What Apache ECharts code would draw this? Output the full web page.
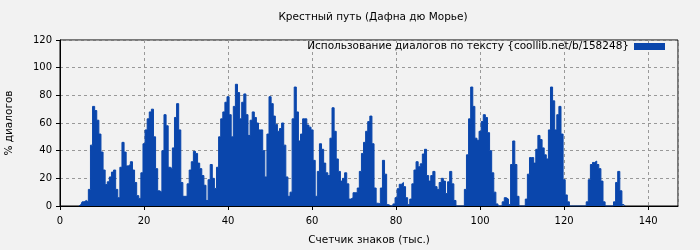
<!DOCTYPE html>
<html>
<head>
<meta charset="utf-8">
<script src="https://cdn.jsdelivr.net/npm/echarts@6/dist/echarts.min.js"></script>
<style>
html,body{margin:0;padding:0;background:#f2f2f2;}
#chart{width:700px;height:250px;}
</style>
</head>
<body>
<div id="chart"></div>
<script>
var chartTitle = 'Крестный путь (Дафна дю Морье)';
var xAxisName = 'Счетчик знаков (тыс.)';
var yAxisName = '% диалогов';
var seriesName = 'Использование диалогов по тексту {coollib.net/b/158248}';
var xTicks = [0, 20, 40, 60, 80, 100, 120, 140];
var yTicks = [0, 20, 40, 60, 80, 100, 120];
var xStart = 4.5;   // thousand characters
var xStep = 0.5;
var dialogPct = [
  0, 1, 3, 4, 3, 12, 44, 72, 69, 62, 52, 39, 26, 15.5, 17.5, 21, 24.5, 26, 12, 6,
  28, 46, 39, 29, 30, 32, 26, 17, 7.5, 5.5, 24, 45, 55, 63, 68, 70, 50, 27, 11, 10,
  40, 66, 58, 28, 27, 42, 64, 74, 55, 17, 7, 7, 16, 26, 32, 39.5, 38, 31, 27, 22,
  15, 4, 19, 30, 20, 12.7, 28, 50, 63, 68, 75, 79, 66, 50, 72, 88, 82, 63, 75, 81,
  66, 51, 62, 68, 64, 60, 55, 55, 40, 21, 52, 79, 74, 65, 59, 54, 56, 60, 44, 21,
  7, 10, 63, 86, 68, 47, 52, 63, 63, 58.5, 57, 55, 33, 7, 25, 45, 41, 31, 24, 22,
  49, 71, 54, 34, 25, 18, 20, 24, 16, 5, 6, 9.6, 9.6, 13, 25, 38, 46, 54, 61, 65,
  45, 13, 2, 1.5, 13, 33, 23, 1, 0, 0, 1.5, 6, 12.5, 15.7, 17, 14, 6, 1, 5, 16,
  26, 32, 28.4, 30.5, 37.6, 41, 22, 18, 22, 25, 14, 12, 17, 20, 18, 9, 17.5, 25, 16, 4,
  0, 0, 0, 0, 12, 37, 63, 86, 72, 49, 47.5, 54, 61, 66, 64, 53, 40, 24, 10, 1.5,
  0, 0, 3, 6, 5, 1, 30, 47, 30, 7, 0, 0, 0, 5, 23, 35, 35, 31, 41, 51,
  48, 42, 37, 34, 55, 86, 76, 55, 66, 72, 52, 19, 8, 3, 0, 0, 0, 0, 0, 0,
  0, 0, 3, 19, 30, 31.5, 32.5, 30, 27, 18, 3, 0, 0, 0, 0, 3, 17, 25, 11, 1, 0
];

var pts = dialogPct.map(function (v, i) { return [xStart + i * xStep, v]; });
var blue = '#0a46ac';

var chart = echarts.init(document.getElementById('chart'), null, {renderer: 'canvas'});
chart.setOption({
  backgroundColor: '#f2f2f2',
  animation: false,
  textStyle: {fontFamily: 'DejaVu Sans'},
  title: {
    text: chartTitle,
    left: 368,
    textAlign: 'center',
    top: 7,
    textStyle: {fontFamily: 'DejaVu Sans', fontSize: 10.5, fontWeight: 'normal', color: '#000'}
  },
  legend: {
    data: [seriesName],
    right: 30,
    top: 36,
    align: 'right',
    icon: 'rect',
    itemWidth: 31,
    itemHeight: 7,
    itemGap: 10,
    textStyle: {fontFamily: 'DejaVu Sans', fontSize: 10.5, color: '#000'}
  },
  grid: {
    left: 60, right: 22, top: 40, bottom: 44,
    outerBoundsMode: 'none',
    containLabel: false,
    show: true, borderColor: '#000', borderWidth: 1, backgroundColor: '#f2f2f2'
  },
  xAxis: {
    type: 'value',
    min: 0, max: 147.1, interval: 20,
    name: xAxisName,
    nameLocation: 'middle',
    nameGap: 29,
    nameTextStyle: {fontFamily: 'DejaVu Sans', fontSize: 10.5, color: '#000'},
    axisLine: {show: true, lineStyle: {color: '#000'}},
    axisTick: {show: true, length: 4, lineStyle: {color: '#000'}},
    axisLabel: {
      fontSize: 10, color: '#000', margin: 10,
      showMaxLabel: false,
      formatter: function (v) { return xTicks.indexOf(v) >= 0 ? String(v) : ''; }
    },
    splitLine: {show: true, lineStyle: {color: '#999', type: [3, 3], width: 1}}
  },
  yAxis: {
    type: 'value',
    min: 0, max: 120, interval: 20,
    name: yAxisName,
    nameLocation: 'middle',
    nameGap: 45,
    nameTextStyle: {fontFamily: 'DejaVu Sans', fontSize: 10.5, color: '#000'},
    axisLine: {show: true, lineStyle: {color: '#000'}},
    axisTick: {show: true, length: 4, lineStyle: {color: '#000'}},
    axisLabel: {
      fontSize: 10, color: '#000', margin: 8,
      formatter: function (v) { return yTicks.indexOf(v) >= 0 ? String(v) : ''; }
    },
    splitLine: {show: true, lineStyle: {color: '#999', type: [3, 3], width: 1}}
  },
  series: [{
    name: seriesName,
    type: 'line',
    step: 'middle',
    data: pts,
    symbol: 'none',
    itemStyle: {color: blue},
    lineStyle: {color: blue, width: 1},
    areaStyle: {color: blue, opacity: 1}
  }]
});
</script>
</body>
</html>
